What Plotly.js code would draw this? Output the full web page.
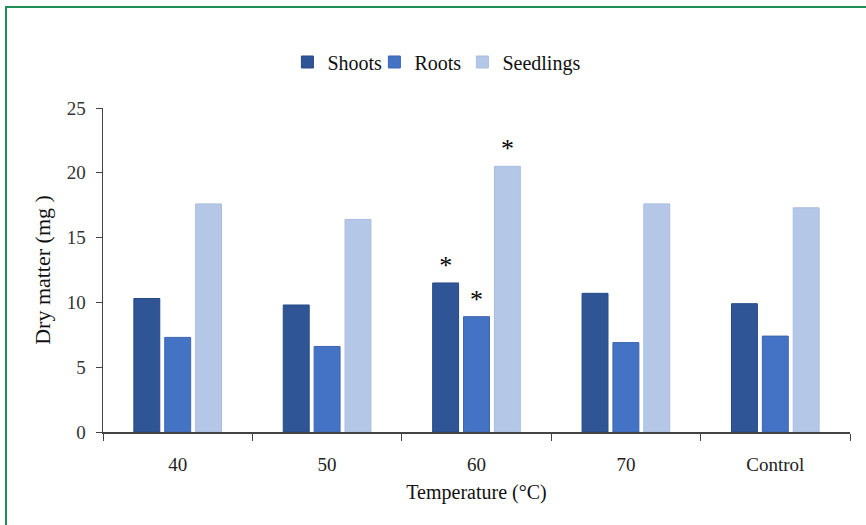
<!DOCTYPE html>
<html><head><meta charset="utf-8">
<script src="https://cdn.plot.ly/plotly-3.0.1.min.js"></script>
<style>
html,body{margin:0;padding:0;background:#fff;overflow:hidden;}
#frame{position:absolute;left:5px;top:6px;width:900px;height:600px;border:2px solid #1f8f57;box-sizing:border-box;pointer-events:none;z-index:5;}
#chart{position:absolute;left:0;top:0;width:866px;height:525px;}
</style></head>
<body>
<div id="chart"></div>
<div id="frame"></div>
<script>
const categories = ["40", "50", "60", "70", "Control"];
const shoots = [10.3, 9.8, 11.5, 10.7, 9.9];
const roots = [7.3, 6.6, 8.9, 6.9, 7.4];
const seedlings = [17.6, 16.4, 20.5, 17.6, 17.3];
const shootsSig = ["", "", "*", "", ""];
const rootsSig = ["", "", "*", "", ""];
const seedlingsSig = ["", "", "*", "", ""];
const yTicks = [0, 5, 10, 15, 20, 25];

const serif = "Liberation Serif";
function bar(name, y, sig, color, line, lw) {
  return {
    type: "bar", name: name, x: categories, y: y,
    text: sig, textposition: "outside", cliponaxis: false,
    textfont: {family: serif, size: 26, color: "#000"},
    marker: {color: color, line: {color: line, width: 1}},
    legendwidth: lw,
    hoverinfo: "x+y"
  };
}
const data = [
  bar("Shoots", shoots, shootsSig, "#2F5597", "#264a85", 42),
  bar("Roots", roots, rootsSig, "#4472C4", "#3d66b0", 43),
  bar("Seedlings", seedlings, seedlingsSig, "#B4C7E7", "#a9bde0", 85)
];
const layout = {
  width: 866, height: 525,
  margin: {l: 103, r: 16, t: 108, b: 93},
  paper_bgcolor: "#fff", plot_bgcolor: "#fff",
  font: {family: serif, size: 18, color: "#222"},
  barmode: "group", bargap: 0.38, bargroupgap: 0.16,
  showlegend: true,
  legend: {orientation: "h", x: 0.451, xanchor: "center", y: 1.142, yanchor: "middle",
           font: {family: serif, size: 20, color: "#111"}, entrywidth: 42, entrywidthmode: "pixels",
           traceorder: "normal"},
  xaxis: {
    type: "category", tickson: "boundaries", ticks: "outside", ticklen: 7, tickcolor: "#444",
    showline: true, linecolor: "#444", linewidth: 1.5, showgrid: false,
    tickfont: {family: serif, size: 19, color: "#222"}, ticklabelstandoff: 15,
    title: {text: "Temperature (°C)", font: {family: serif, size: 20, color: "#111"}, standoff: 10}
  },
  yaxis: {
    range: [0, 25], tickvals: yTicks, ticks: "outside", ticklen: 6, tickcolor: "#444",
    showline: true, linecolor: "#444", linewidth: 1.5, showgrid: false, zeroline: false,
    tickfont: {family: serif, size: 19, color: "#333"}, ticklabelstandoff: 6,
    title: {text: "Dry matter (mg )", font: {family: serif, size: 22, color: "#111"}, standoff: 10}
  }
};
Plotly.newPlot("chart", data, layout, {displayModeBar: false, staticPlot: true});
</script>
</body></html>
